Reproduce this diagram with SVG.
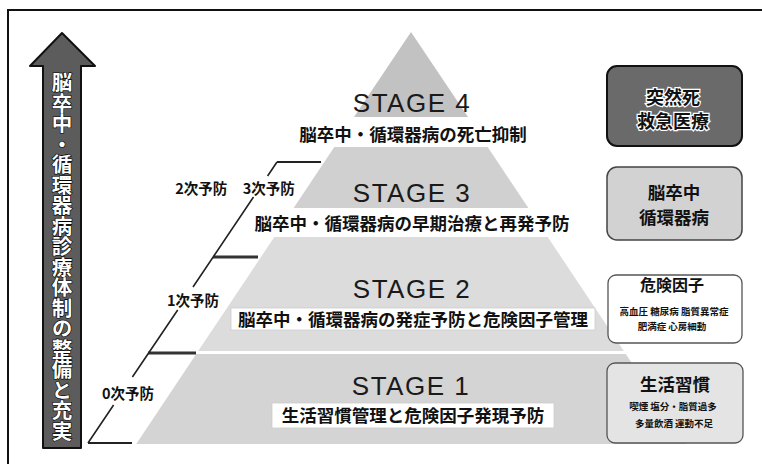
<svg xmlns="http://www.w3.org/2000/svg" width="762" height="464" viewBox="0 0 762 464">
<style>
.cjk{font-family:"Noto Sans CJK JP","Noto Sans CJK SC",sans-serif;font-weight:700;fill:#111}
.sub{font-size:17.5px;text-anchor:middle}
.stage{font-family:"Liberation Sans",Arial,sans-serif;font-size:26px;letter-spacing:1.5px;text-anchor:middle;fill:#1a1a1a}
.lbl{font-size:14.5px;text-anchor:middle}
.small{font-size:9.5px;text-anchor:middle}
.box{font-size:17.5px;text-anchor:middle}
.tick{stroke:#222;stroke-width:2;fill:none}
.tick2{stroke:#333;stroke-width:3;fill:none}
.diag{stroke:#222;stroke-width:1.6;fill:none}
.wbox{fill:#fff;stroke:#ccc;stroke-width:0.8}
</style>
<rect width="762" height="464" fill="#fff"/>
<path d="M8,464 V10 H762" fill="none" stroke="#111" stroke-width="2"/>

<g id="arrow">
  <path d="M62,33 L95,66 L81,66 L81,448 L43,448 L43,66 L30,66 Z" fill="#5c5c5c" stroke="#111" stroke-width="2" stroke-linejoin="round"/>
  <text x="62" y="72" class="cjk" style="writing-mode:vertical-rl;font-size:20.5px;fill:#fff;stroke:#000;stroke-width:1.2px;paint-order:stroke">脳卒中・循環器病診療体制の整備と充実</text>
</g>

<g id="stage4">
  <polygon points="411,32 468,117 354,117" fill="#c2c2c2"/>
  <text x="412" y="112" class="stage">STAGE 4</text>
  <text x="413" y="140.5" class="cjk sub">脳卒中・循環器病の死亡抑制</text>
</g>

<g id="stage3">
  <polygon points="334.3,147 487.7,147 528.4,208 293.6,208" fill="#d0d0d0"/>
  <text x="412" y="202" class="stage">STAGE 3</text>
  <text x="412" y="229.5" class="cjk sub">脳卒中・循環器病の早期治療と再発予防</text>
</g>

<g id="stage2">
  <polygon points="274.3,237 547.7,237 623.8,351 198.2,351" fill="#dcdcdc"/>
  <text x="412" y="298" class="stage">STAGE 2</text>
  <rect x="231" y="308" width="364" height="22" class="wbox"/>
  <text x="413" y="326" class="cjk sub">脳卒中・循環器病の発症予防と危険因子管理</text>
</g>

<g id="stage1">
  <polygon points="196.2,354 625.8,354 685.8,444 136.2,444" fill="#d4d4d4"/>
  <text x="411" y="395" class="stage">STAGE 1</text>
  <rect x="272" y="403" width="282" height="25" class="wbox"/>
  <text x="413" y="422" class="cjk sub">生活習慣管理と危険因子発現予防</text>
</g>

<g id="box-sudden">
  <rect x="607" y="66" width="135" height="80" rx="10" fill="#6a6a6a" stroke="#111" stroke-width="2"/>
  <text x="673" y="104" class="cjk box" style="font-size:18px;stroke:#fff;stroke-width:2.5px;paint-order:stroke">突然死</text>
  <text x="673" y="128" class="cjk box" style="font-size:18px;stroke:#fff;stroke-width:2.5px;paint-order:stroke">救急医療</text>
</g>

<g id="box-disease">
  <rect x="607" y="167" width="135" height="73" rx="10" fill="#d2d2d2" stroke="#444" stroke-width="1.5"/>
  <text x="674" y="198.5" class="cjk box">脳卒中</text>
  <text x="674" y="223.5" class="cjk box">循環器病</text>
</g>

<g id="box-risk">
  <rect x="608" y="275" width="134" height="68" rx="8" fill="#fff" stroke="#555" stroke-width="1.3"/>
  <text x="672" y="291" class="cjk" style="font-size:16px;text-anchor:middle">危険因子</text>
  <text x="674" y="314.5" class="cjk small">高血圧 糖尿病 脂質異常症</text>
  <text x="672" y="329.5" class="cjk small">肥満症 心房細動</text>
</g>

<g id="box-lifestyle">
  <rect x="607" y="363" width="136" height="80" rx="8" fill="#e4e4e4" stroke="#555" stroke-width="1.3"/>
  <text x="675" y="390.5" class="cjk box">生活習慣</text>
  <text x="673" y="409.5" class="cjk small">喫煙 塩分・脂質過多</text>
  <text x="674" y="426.5" class="cjk small">多量飲酒 運動不足</text>
</g>

<g id="connectors">
  <path class="tick" d="M88,443 H132"/>
  <path class="tick2" d="M148,353 H196"/>
  <path class="tick2" d="M213,257 H258"/>
  <path class="tick" d="M277,162 H321"/>
  <path class="diag" d="M88,443 L113.6,405 M132.4,377 L177.7,310 M193,287 L253.5,197 M267.6,176 L277,162"/>
</g>

<g id="labels">
  <text x="128" y="398.5" class="cjk lbl">0次予防</text>
  <text x="193" y="305.5" class="cjk lbl">1次予防</text>
  <text x="235" y="193.5" class="cjk lbl" style="word-spacing:12px">2次予防 3次予防</text>
</g>
</svg>
